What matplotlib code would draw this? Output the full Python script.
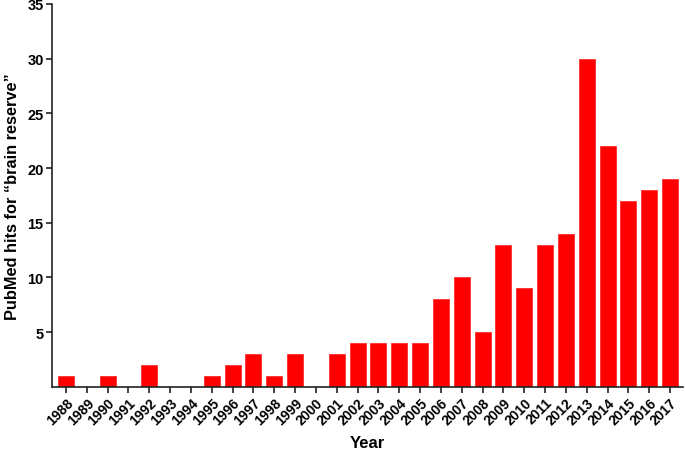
import matplotlib
matplotlib.use("Agg")
import matplotlib.pyplot as plt
import numpy as np

years = [str(y) for y in range(1988, 2018)]
hits = [1, 0, 1, 0, 2, 0, 0, 1, 2, 3, 1, 3, 0, 3, 4, 4, 4, 4, 8, 10,
        5, 13, 9, 13, 14, 30, 22, 17, 18, 19]

plt.rcParams['font.family'] = ['Liberation Sans', 'DejaVu Sans']
plt.rcParams['font.weight'] = 'bold'

fig = plt.figure(figsize=(6.85, 4.52), dpi=100)
ax = fig.add_axes([0.076, 0.142, 0.921, 0.847])

x = np.arange(len(years))
ax.bar(x, hits, width=0.77, color='#ff0000', edgecolor='#ff3030', linewidth=0.6)

ax.set_xlim(-0.67, len(years) - 1 + 0.62)
ax.set_ylim(0, 35)
ax.set_yticks([5, 10, 15, 20, 25, 30, 35])
ax.set_xticks(x)
ax.set_xticklabels(years, rotation=45, ha='right', rotation_mode='anchor')

for lbl in ax.get_xticklabels():
    lbl.set_fontweight('bold')
    lbl.set_fontsize(10)
for lbl in ax.get_yticklabels():
    lbl.set_fontweight('bold')
    lbl.set_fontsize(10.5)

ax.tick_params(axis='both', direction='out', length=4, width=1.2, colors='#222222', pad=2)
ax.tick_params(axis='both', labelcolor='black')

for side in ['top', 'right']:
    ax.spines[side].set_visible(False)
for side in ['left', 'bottom']:
    ax.spines[side].set_linewidth(1.2)
    ax.spines[side].set_color('#222222')

ax.set_xlabel('Year', fontsize=12, fontweight='bold', labelpad=6)
ax.set_ylabel('PubMed hits for \u201cbrain reserve\u201d', fontsize=11.8, fontweight='bold', labelpad=5)

fig.savefig('out.png', dpi=100)
